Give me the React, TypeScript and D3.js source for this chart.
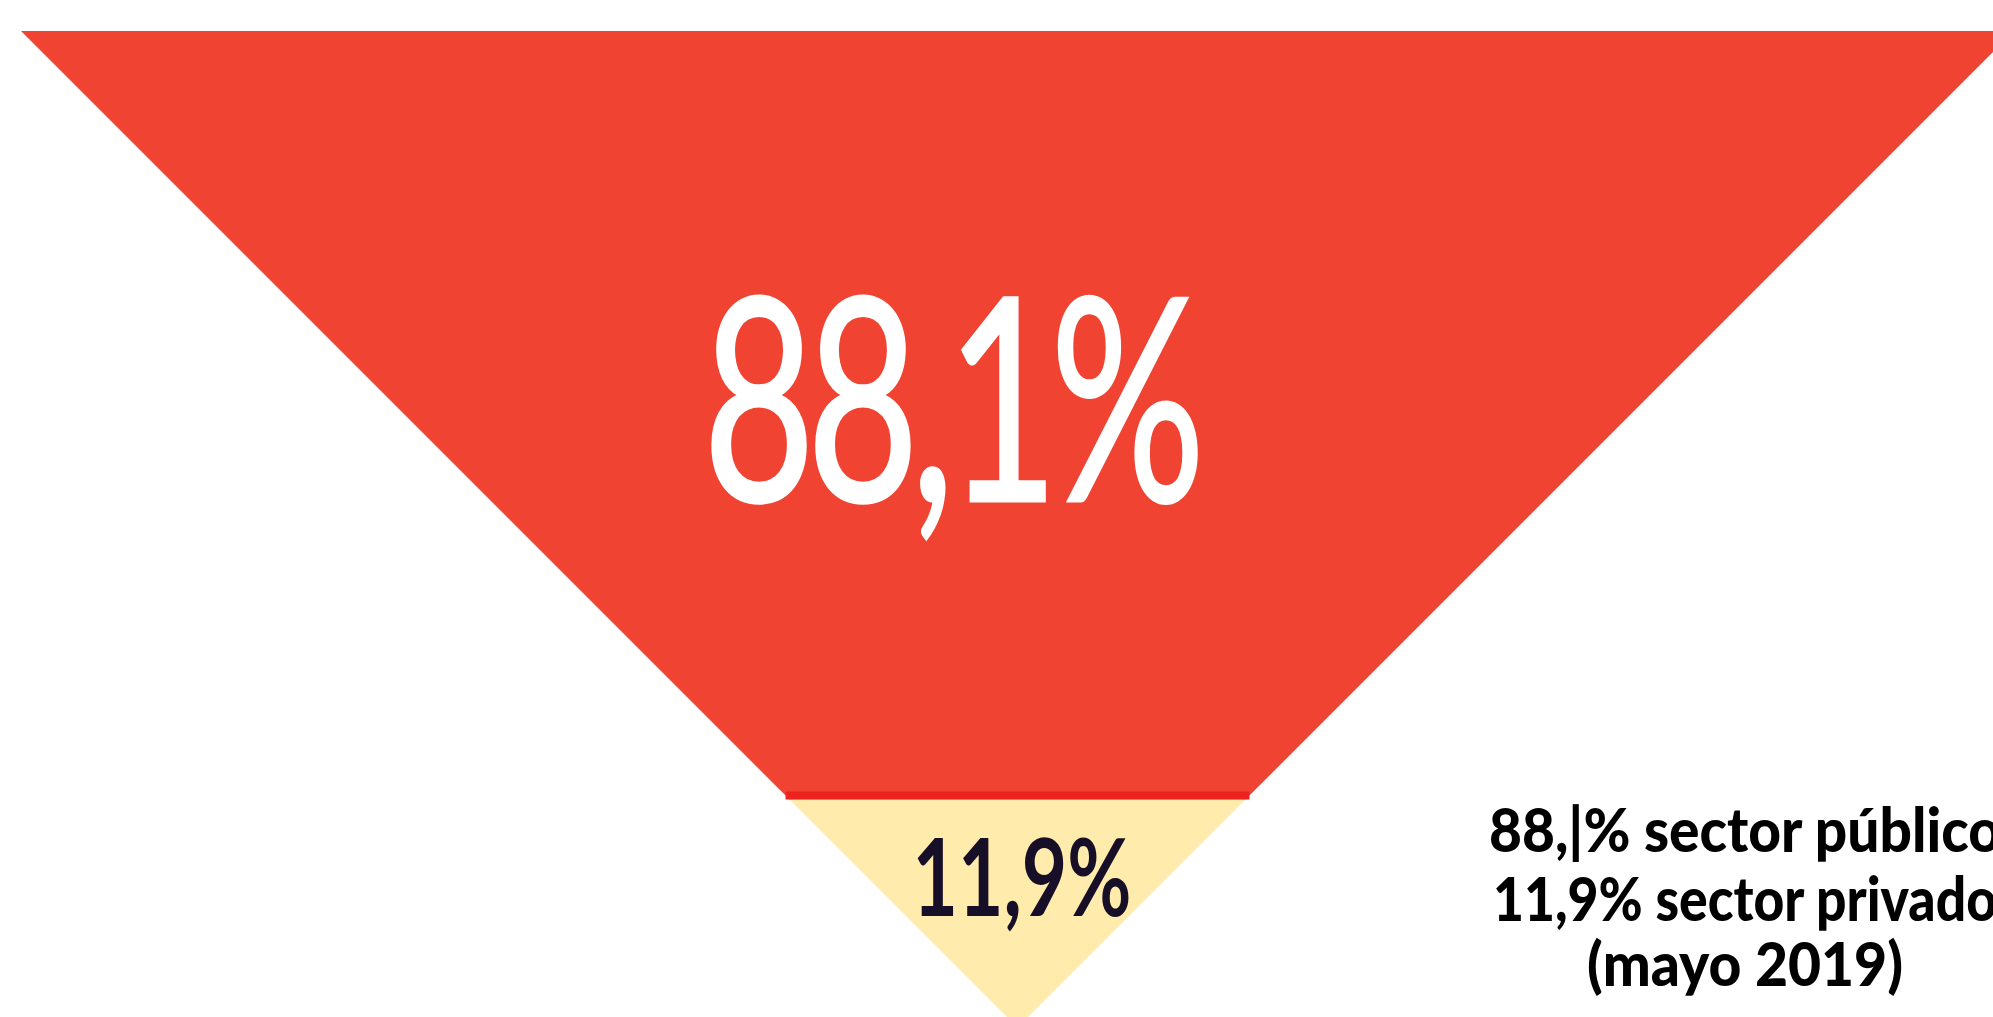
import { line, scalePow } from 'd3';
import React from 'react';

const WIDTH = 1993;
const HEIGHT = 1017;

// funnel geometry
const TOP = 31;
const LEFT = 21;
const RIGHT = 2014;
const APEX_X = (LEFT + RIGHT) / 2;
const APEX_Y = TOP + (RIGHT - LEFT) / 2;

const sectors = ['sector público', 'sector privado'];
const shares = [88.1, 11.9];
const shareLabels = ['88,1%', '11,9%'];
const legendLines = ['88,|% sector público', '11,9% sector privado', '(mayo 2019)'];

const RED = '#f04332';
const RED_LINE = '#ec231f';
const YELLOW = '#ffebab';
const NAVY = '#170e27';

const App = (): JSX.Element => {
  // cumulative share from the top of the funnel to its tip
  const y = scalePow().exponent(2.05).domain([0, 100]).range([TOP, APEX_Y]);
  const halfWidth = (yy: number) => APEX_Y - yy;
  const path = line<[number, number]>();

  const split = y(shares[0]);
  const redPts: [number, number][] = [
    [APEX_X - halfWidth(TOP), TOP],
    [APEX_X + halfWidth(TOP), TOP],
    [APEX_X + halfWidth(split), split],
    [APEX_X - halfWidth(split), split],
  ];
  const yellowPts: [number, number][] = [
    [APEX_X - halfWidth(split), split],
    [APEX_X + halfWidth(split), split],
    [APEX_X, y(shares[0] + shares[1])],
  ];

  return (
    <div style={{ position: 'absolute', left: 0, top: 0, width: WIDTH, height: HEIGHT, overflow: 'hidden' }}>
      <svg width={WIDTH} height={HEIGHT} viewBox={`0 0 ${WIDTH} ${HEIGHT}`} style={{ display: 'block', background: '#fff' }}>
        <g>
          <path d={(path(redPts) || '') + 'Z'} fill={RED}>
            <title>{sectors[0]}</title>
          </path>
          <path d={(path(yellowPts) || '') + 'Z'} fill={YELLOW}>
            <title>{sectors[1]}</title>
          </path>
          <line
            x1={APEX_X - halfWidth(split - 4)}
            x2={APEX_X + halfWidth(split - 4)}
            y1={split - 4}
            y2={split - 4}
            stroke={RED_LINE}
            strokeWidth={8}
          />
        </g>

        <text
          x={950}
          y={501}
          fill="#fff"
          stroke="#fff"
          strokeWidth={3}
          textAnchor="middle"
          fontFamily="Lato, 'DejaVu Sans', sans-serif"
          fontWeight={400}
          fontSize={283}
          letterSpacing={-12}
          textLength={494}
          lengthAdjust="spacingAndGlyphs"
        >
          {shareLabels[0]}
        </text>
        <text
          x={1022}
          y={916}
          fill={NAVY}
          textAnchor="middle"
          fontFamily="Lato, 'DejaVu Sans', sans-serif"
          fontWeight={700}
          fontSize={108}
          textLength={219}
          lengthAdjust="spacingAndGlyphs"
        >
          {shareLabels[1]}
        </text>

        <g fill="#000" textAnchor="middle" fontFamily="Lato, 'DejaVu Sans', sans-serif" fontWeight={900} fontSize={60}>
          <text x={1745} y={852} textLength={512} lengthAdjust="spacingAndGlyphs">
            {legendLines[0]}
          </text>
          <text x={1745} y={921} textLength={504} lengthAdjust="spacingAndGlyphs">
            {legendLines[1]}
          </text>
          <text x={1745} y={986} textLength={316} lengthAdjust="spacingAndGlyphs">
            {legendLines[2]}
          </text>
        </g>
      </svg>
    </div>
  );
};

export default App;
